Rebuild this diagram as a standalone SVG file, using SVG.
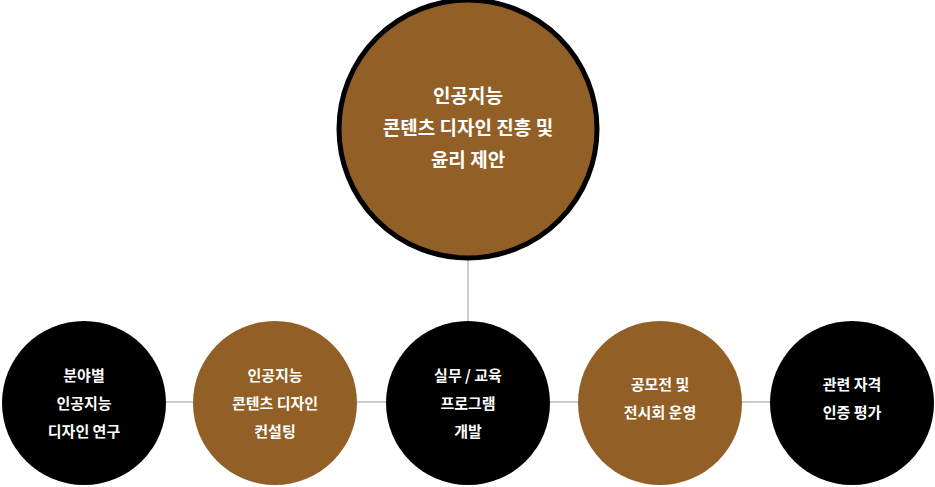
<svg xmlns="http://www.w3.org/2000/svg" width="935" height="487" viewBox="0 0 935 487">
<style>
.t{font-family:"Noto Sans CJK KR","Noto Sans",sans-serif;font-weight:bold;fill:#fff;text-anchor:middle}
.s{font-size:15px}.b{font-size:19px}
.br{fill:#925F27}.bk{fill:#000}
.c{stroke:#999;stroke-width:1;fill:none}
</style>
<rect width="935" height="487" fill="#fff"/>
<g id="connectors">
<line class="c" x1="468" y1="258" x2="468" y2="322"/>
<line class="c" x1="160" y1="402" x2="780" y2="402"/>
</g>
<g id="main"><circle cx="468" cy="129" r="129" class="br" stroke="#000" stroke-width="5"/>
<text class="t b" x="468" y="103">인공지능</text><text class="t b" x="468" y="135">콘텐츠 디자인 진흥 및</text><text class="t b" x="468" y="167">윤리 제안</text></g>
<g id="n1"><circle cx="84" cy="403" r="82" class="bk"/>
<text class="t s" x="84" y="381">분야별</text><text class="t s" x="84" y="409">인공지능</text><text class="t s" x="84" y="437">디자인 연구</text></g>
<g id="n2"><circle cx="275" cy="403" r="82" class="br"/>
<text class="t s" x="275" y="381">인공지능</text><text class="t s" x="275" y="409">콘텐츠 디자인</text><text class="t s" x="275" y="437">컨설팅</text></g>
<g id="n3"><circle cx="468" cy="403" r="82" class="bk"/>
<text class="t s" x="468" y="381">실무 / 교육</text><text class="t s" x="468" y="409">프로그램</text><text class="t s" x="468" y="437">개발</text></g>
<g id="n4"><circle cx="660" cy="403" r="82" class="br"/>
<text class="t s" x="660" y="390">공모전 및</text><text class="t s" x="660" y="418">전시회 운영</text></g>
<g id="n5"><circle cx="852" cy="403" r="82" class="bk"/>
<text class="t s" x="852" y="390">관련 자격</text><text class="t s" x="852" y="418">인증 평가</text></g>
</svg>
